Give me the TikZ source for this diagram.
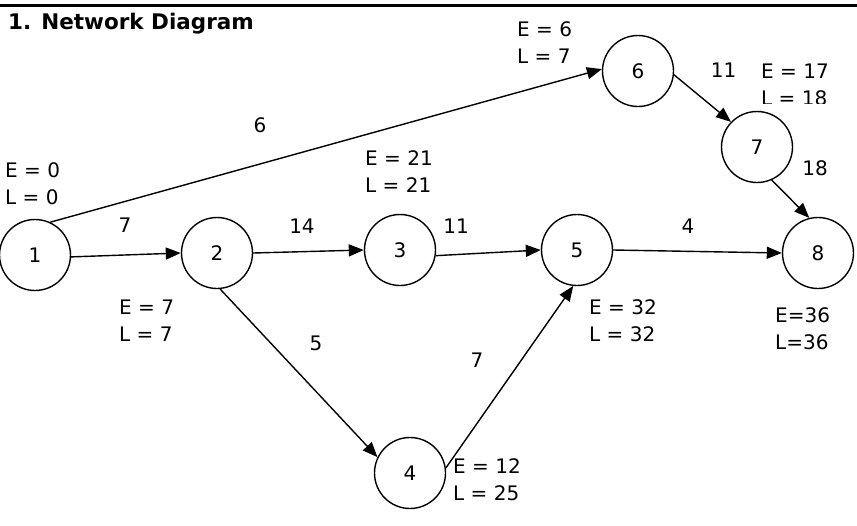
\documentclass[tikz,border=0pt]{standalone}
\usepackage{fontspec}
\setmainfont{DejaVu Sans}
\usetikzlibrary{arrows.meta}
\begin{document}
\begin{tikzpicture}[x=1pt,y=-1pt,
  ev/.style={circle,draw,line width=1.4pt,fill=white,minimum size=71pt,inner sep=0pt,font=\fontsize{20}{24}\selectfont},
  act/.style={line width=1.4pt,-{Triangle[length=15pt,width=12pt]}},
  lbl/.style={inner sep=0pt,font=\fontsize{20}{24}\selectfont},
  info/.style={inner sep=0pt,anchor=west,align=left,font=\fontsize{20}{27}\selectfont}]
\useasboundingbox (0,0) rectangle (857,525);
\coordinate (rl) at (0,5.5);
\coordinate (rr) at (857,5.5);
\draw[line width=2.5pt] (rl) -- (rr);
\node[inner sep=0pt,anchor=west,font=\bfseries\fontsize{21.5}{26}\selectfont] (title) at (8,24) {1. Network Diagram};
% info labels (drawn before nodes)
\node[info] (i1) at (5,183.5) {E = 0\\L = 0};
\node[info] (i6) at (517,42.5) {E = 6\\L = 7};
\begin{scope}
\clip (740,50) rectangle (857,103);
\node[info] (i7) at (761,84.5) {E = 17\\L = 18};
\end{scope}
\node[info] (i2) at (119,320.5) {E = 7\\L = 7};
\node[info] (i3) at (365,172) {E = 21\\L = 21};
\node[info] (i4) at (453,480) {E = 12\\L = 25};
\node[info] (i5) at (589,320.5) {E = 32\\L = 32};
\node[info] (i8) at (775,328.5) {E=36\\L=36};
% edge labels
\node[lbl] (l16) at (260,125) {6};
\node[lbl] (l12) at (125,225.5) {7};
\node[lbl] (l23) at (302,226) {14};
\node[lbl] (l35) at (456,226) {11};
\node[lbl] (l58) at (688,226) {4};
\node[lbl] (l24) at (316,343) {5};
\node[lbl] (l45) at (477,360) {7};
\node[lbl] (l67) at (723.5,70.5) {11};
\node[lbl] (l78) at (815,168) {18};
% event nodes
\node[ev] (n1) at (35,255) {1};
\node[ev] (n2) at (217,253) {2};
\node[ev] (n3) at (400,250) {3};
\node[ev] (n4) at (410,473) {4};
\node[ev] (n5) at (577,250) {5};
\node[ev] (n6) at (638,71) {6};
\node[ev] (n7) at (757,147) {7};
\node[ev] (n8) at (818,253) {8};
% activities
\draw[act] (n1.65) -- (n6.177);
\draw[act] (n1.-3) -- (n2.180);
\draw[act] (n2.east) -- (n3.west);
\draw[act] (n3.-9) -- (n5.180);
\draw[act] (n5.east) -- (n8.west);
\draw[act] (n2.-85) -- (n4.154);
\draw[act] (n4.8) -- (n5.-96);
\draw[act] (n6.-6) -- (n7.136);
\draw[act] (n7.-66) -- (n8.104);
\end{tikzpicture}
\end{document}
